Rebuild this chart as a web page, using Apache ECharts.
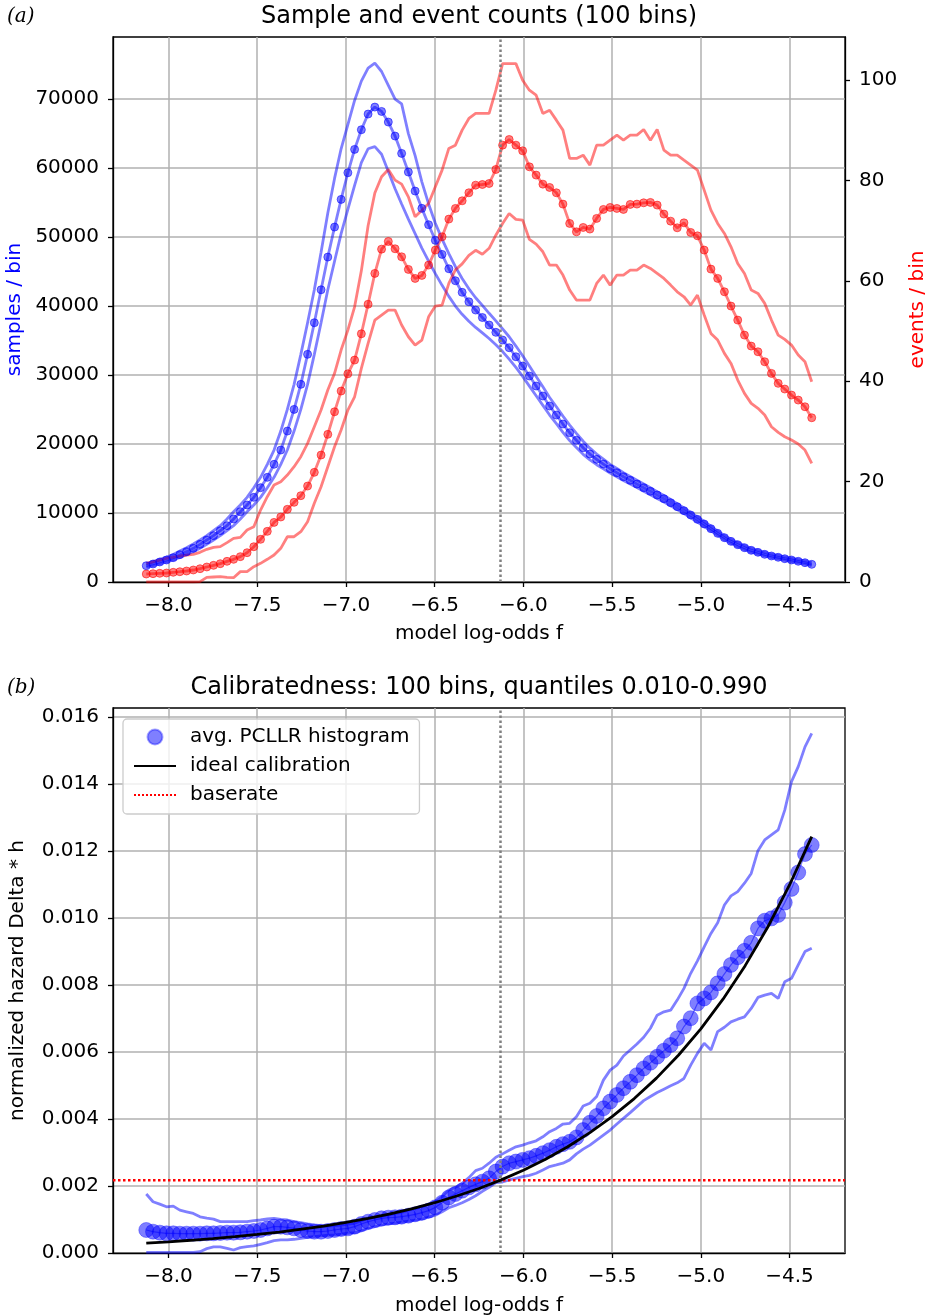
<!DOCTYPE html>
<html>
<head>
<meta charset="utf-8">
<script src="https://cdn.jsdelivr.net/npm/echarts@6/dist/echarts.min.js"></script>
<style>
  html, body { margin: 0; padding: 0; background: #fff; }
  #chart { width: 925px; height: 1316px; }
</style>
</head>
<body>
<div id="chart"></div>
<script>
// ---- bin centres (model log-odds f) ----
const binF = [-8.125,-8.087,-8.049,-8.011,-7.973,-7.936,-7.898,-7.860,-7.822,-7.784,
  -7.746,-7.708,-7.670,-7.633,-7.595,-7.557,-7.519,-7.481,-7.443,-7.405,
  -7.367,-7.330,-7.292,-7.254,-7.216,-7.178,-7.140,-7.102,-7.064,-7.027,
  -6.989,-6.951,-6.913,-6.875,-6.837,-6.799,-6.761,-6.723,-6.686,-6.648,
  -6.610,-6.572,-6.534,-6.496,-6.458,-6.420,-6.383,-6.345,-6.307,-6.269,
  -6.231,-6.193,-6.155,-6.117,-6.080,-6.042,-6.004,-5.966,-5.928,-5.890,
  -5.852,-5.814,-5.777,-5.739,-5.701,-5.663,-5.625,-5.587,-5.549,-5.511,
  -5.473,-5.436,-5.398,-5.360,-5.322,-5.284,-5.246,-5.208,-5.170,-5.133,
  -5.095,-5.057,-5.019,-4.981,-4.943,-4.905,-4.867,-4.830,-4.792,-4.754,
  -4.716,-4.678,-4.640,-4.602,-4.564,-4.527,-4.489,-4.451,-4.413,-4.375];

// ---- panel (a): samples per bin ----
const samplesMean = [2360,2610,2900,3190,3530,3960,4400,4880,5460,6090,
  6720,7440,8160,9130,10190,11160,12270,13670,15170,17060,
  19130,21880,25020,28650,33000,37580,42360,47100,51450,55460,
  59320,62710,65560,67830,68840,68210,66670,64640,62130,59420,
  56670,54160,51790,49520,47490,45410,43670,41990,40620,39420,
  38340,37250,36190,35070,33960,32650,31300,29860,28410,26960,
  25510,24200,22900,21640,20540,19460,18550,17780,17100,16420,
  15840,15260,14740,14200,13670,13140,12610,12080,11500,10920,
  10340,9710,9080,8410,7730,7050,6430,5890,5410,4980,
  4590,4300,4010,3770,3580,3380,3190,3000,2800,2560];
const samplesUpper = [2670,2950,3280,3600,3990,4480,4970,5510,6090,6720,
  7440,8160,9130,10190,11160,12270,13670,15170,17060,19130,
  21880,25020,28650,33000,37580,42360,47800,53500,58500,62800,
  66300,69800,72600,74500,75200,74000,72000,70000,69300,65000,
  61800,58000,54800,52000,49700,47600,45700,44000,42500,41200,
  40100,38950,37850,36700,35550,34200,32800,31300,29800,28300,
  26750,25400,24050,22750,21550,20400,19400,18550,17800,17050,
  16450,15850,15300,14750,14200,13650,13100,12550,11950,11350,
  10750,10100,9450,8770,8080,7380,6750,6200,5720,5280,
  4890,4590,4300,4050,3850,3650,3450,3250,3050,2800];
const samplesLower = [2150,2380,2640,2900,3200,3550,3960,4400,4880,5460,
  6090,6720,7440,8160,9130,10190,11160,12270,13670,15170,
  17060,19130,21880,25020,28650,33000,37580,42360,46500,50500,
  54000,57500,60800,62800,63100,62000,59500,57000,54800,52600,
  50500,48400,46500,44700,43000,41400,40000,38800,37800,36900,
  36100,35300,34400,33400,32300,31100,29800,28400,27000,25600,
  24200,22950,21700,20500,19500,18500,17700,17000,16400,15800,
  15250,14700,14200,13700,13150,12650,12100,11600,11050,10500,
  9930,9320,8700,8050,7400,6750,6130,5600,5120,4700,
  4320,4040,3770,3540,3350,3160,2970,2780,2600,2360];

// ---- panel (a): events per bin ----
const eventsMean = [1.59,1.66,1.73,1.79,1.93,2.05,2.19,2.39,2.65,2.99,
  3.32,3.65,4.12,4.52,5.05,5.84,7.03,8.50,10.09,11.88,
  12.95,14.48,15.87,17.20,19.12,21.85,25.30,29.42,33.92,38.05,
  41.49,44.22,49.46,55.35,61.49,66.33,67.86,66.40,64.80,62.29,
  60.49,61.09,63.15,66.14,68.79,72.31,74.44,75.96,77.56,79.08,
  79.21,79.41,82.20,87.05,88.18,87.05,85.92,82.73,81.08,79.28,
  78.62,77.56,75.30,71.45,69.78,70.65,70.32,72.45,74.24,74.64,
  74.44,74.24,75.24,75.30,75.56,75.64,75.10,73.31,71.91,70.58,
  71.57,69.66,68.98,66.14,62.35,60.50,57.83,54.98,52.19,49.20,
  47.01,45.88,43.89,41.57,39.58,38.45,37.25,36.25,34.92,32.73];
const eventsUpper = [3.72,4.00,4.35,4.71,4.95,5.18,5.35,5.51,5.91,6.51,
  6.90,7.04,7.84,8.70,8.90,10.36,11.02,14.34,17.00,19.32,
  19.98,21.31,22.97,24.96,27.62,30.94,34.26,38.25,41.57,46.22,
  50.20,54.84,62.00,71.00,77.50,80.74,82.20,80.08,79.28,76.75,
  72.77,74.10,75.44,78.75,82.07,86.39,87.05,90.04,92.37,93.37,
  93.37,93.37,98.00,103.30,103.30,103.30,100.00,98.00,97.00,93.37,
  94.02,92.03,90.04,84.40,84.40,85.06,83.07,87.05,87.05,88.05,
  89.04,88.05,89.04,89.04,90.17,88.05,90.17,86.06,85.06,85.06,
  84.06,83.07,82.07,78.09,74.10,71.45,69.46,66.80,63.48,61.49,
  58.17,57.51,55.52,52.19,49.20,48.34,47.21,45.22,43.89,39.90];
const eventsLower = [0,0,0,0,0,0,0,0,0.07,0.93,
  1.00,1.06,0.93,0.86,2.06,2.06,3.05,3.72,4.52,5.38,
  6.71,9.02,9.02,10.02,12.01,15.68,18.98,22.97,26.95,30.28,
  34.26,36.91,42.57,47.55,52.19,53.19,54.18,54.18,51.20,48.87,
  47.21,48.21,52.85,54.98,55.18,59.50,62.20,63.40,65.10,66.10,
  65.30,66.50,69.10,71.45,73.44,72.25,72.11,68.26,67.33,65.80,
  63.15,63.15,61.16,58.17,56.18,56.18,56.18,59.50,61.16,59.16,
  61.16,61.16,62.15,62.15,63.15,62.49,61.49,60.49,59.16,57.83,
  56.84,55.18,57.17,53.20,49.54,48.21,45.56,43.56,40.24,37.59,
  35.60,34.60,33.27,30.94,29.82,28.94,28.29,27.49,26.29,23.64];

// ---- panel (b): calibration ----
const pcllrAvg = [0.000687,0.000637,0.000607,0.000587,0.000587,0.000577,0.000577,0.000577,0.000577,0.000587,
  0.000587,0.000597,0.000607,0.000607,0.000617,0.000637,0.000657,0.000687,0.000736,0.000786,
  0.000786,0.000766,0.000736,0.000687,0.000657,0.000637,0.000637,0.000657,0.000687,0.000716,
  0.000736,0.000786,0.000866,0.000935,0.000985,0.001035,0.001055,0.001065,0.001085,0.001115,
  0.001155,0.001204,0.001264,0.001363,0.00150,0.00166,0.00176,0.00186,0.00196,0.00205,
  0.00213,0.00223,0.00243,0.00258,0.00268,0.00273,0.00278,0.00283,0.00290,0.00298,
  0.00307,0.00317,0.00325,0.00332,0.00345,0.00367,0.00389,0.00409,0.00432,0.00452,
  0.00472,0.00492,0.00511,0.00531,0.00551,0.00568,0.00586,0.00604,0.00621,0.00641,
  0.00676,0.00701,0.00745,0.00760,0.00778,0.00805,0.00833,0.00860,0.00883,0.00902,
  0.00926,0.00969,0.00992,0.00999,0.01009,0.01046,0.01087,0.01136,0.01191,0.01218];
const pcllrUpper = [0.00176,0.00153,0.00146,0.00138,0.00140,0.00128,0.00123,0.00118,0.00108,0.00104,
  0.00101,0.000935,0.000935,0.000935,0.000935,0.000935,0.000965,0.000985,0.001015,0.001035,
  0.001005,0.000985,0.000935,0.000905,0.000866,0.000836,0.000820,0.000806,0.000820,0.000836,
  0.000866,0.000886,0.000965,0.001035,0.001065,0.001104,0.001134,0.00118,0.001214,0.00128,
  0.001333,0.00138,0.00146,0.00153,0.00168,0.00188,0.00196,0.00208,0.00225,0.00246,
  0.00253,0.00268,0.00286,0.00296,0.00307,0.00317,0.00322,0.00329,0.00335,0.00347,
  0.00362,0.00372,0.00385,0.00387,0.00407,0.00439,0.00447,0.00467,0.00516,0.00546,
  0.00561,0.00588,0.00606,0.00624,0.00644,0.00671,0.00710,0.00720,0.00725,0.00755,
  0.00790,0.00835,0.00872,0.00914,0.00954,0.00986,0.01039,0.01066,0.01079,0.01104,
  0.01133,0.01201,0.01233,0.01248,0.01263,0.01322,0.01407,0.01452,0.01511,0.01551];
const pcllrLower = [0.00002,0.00002,0.00002,0.00002,0.00002,0.00002,0.00002,0.00002,0.00004,0.00013,
  0.00018,0.00018,0.00014,0.00009,0.00016,0.00019,0.00021,0.00026,0.00031,0.00037,
  0.00039,0.00039,0.00041,0.00044,0.00047,0.00049,0.00051,0.00053,0.00054,0.00056,
  0.00059,0.00061,0.00066,0.00073,0.00079,0.00083,0.00087,0.00089,0.00092,0.00095,
  0.00098,0.00101,0.00107,0.00113,0.00123,0.00135,0.00142,0.00150,0.00160,0.00171,
  0.00184,0.00196,0.00210,0.00212,0.00218,0.00223,0.00228,0.00232,0.00238,0.00248,
  0.00258,0.00263,0.00268,0.00278,0.00296,0.00310,0.00322,0.00337,0.00352,0.00367,
  0.00385,0.00402,0.00419,0.00437,0.00455,0.00467,0.00479,0.00489,0.00499,0.00508,
  0.00521,0.00561,0.00596,0.00626,0.00606,0.00661,0.00674,0.00690,0.00698,0.00705,
  0.00730,0.00763,0.00770,0.00775,0.00760,0.00810,0.00820,0.00860,0.00900,0.00910];

// ideal calibration curve, read at these log-odds
const idealF = [-8.125,-8.0,-7.875,-7.75,-7.625,-7.5,-7.375,-7.25,-7.125,-7.0,
  -6.875,-6.75,-6.625,-6.5,-6.375,-6.25,-6.125,-6.0,-5.875,-5.75,
  -5.625,-5.5,-5.375,-5.25,-5.125,-5.0,-4.875,-4.75,-4.625,-4.5,-4.375];
const idealH = [0.000296,0.000335,0.000380,0.000431,0.000488,0.000553,0.000626,0.000710,0.000804,0.000911,
  0.001032,0.001169,0.001325,0.001501,0.001701,0.001927,0.002183,0.002473,0.002801,0.003173,
  0.003594,0.004070,0.004610,0.005220,0.005911,0.006693,0.007577,0.008578,0.009709,0.010987,0.012432];

const baserate = 0.00217;
const markerF = -6.13;

// ---- axis ranges and tick labels ----
const fRange = [-8.3125, -4.1875];
const fTicks = [-8.0,-7.5,-7.0,-6.5,-6.0,-5.5,-5.0,-4.5];
const sampleTicks = [0,10000,20000,30000,40000,50000,60000,70000];
const eventTicks = [0,20,40,60,80,100];
const hazardTicks = [0,0.002,0.004,0.006,0.008,0.010,0.012,0.014,0.016];

// ---- build ----
const pairs = (xs, ys) => xs.map((x, i) => [x, ys[i]]);
const FONT = 'DejaVu Sans';
const FS = 20;
const LW = 2.8;
const BLUE = 'rgba(0,0,255,0.5)';
const RED = 'rgba(255,0,0,0.5)';
const minus = v => String(v).replace('-', '\u2212');

function xAxisCfg(grid, gap) {
  return {
    type: 'value', gridIndex: grid, min: fRange[0], max: fRange[1],
    name: 'model log-odds f', nameLocation: 'middle', nameGap: gap,
    nameTextStyle: { fontFamily: FONT, fontSize: FS, color: '#000' },
    axisLine: { show: true, lineStyle: { color: '#000', width: 1.3 } },
    axisTick: { show: true, inside: false, length: 5, customValues: fTicks, lineStyle: { color: '#000', width: 1.3 } },
    axisLabel: { show: true, margin: 14, customValues: fTicks, fontFamily: FONT, fontSize: FS, color: '#000',
      formatter: v => minus(v.toFixed(1)) },
    splitLine: { show: true, lineStyle: { color: '#b0b0b0', width: 1.5 } }
  };
}
function yAxisCfg(grid, opts) {
  return Object.assign({
    type: 'value', gridIndex: grid, nameLocation: 'middle',
    axisLine: { show: true, lineStyle: { color: '#000', width: 1.3 } },
    axisTick: { show: true, inside: false, length: 5, customValues: opts.ticks, lineStyle: { color: '#000', width: 1.3 } },
    axisLabel: { show: true, margin: 14, customValues: opts.ticks, fontFamily: FONT, fontSize: FS, color: '#000',
      formatter: opts.fmt },
    splitLine: { show: opts.split, lineStyle: { color: '#b0b0b0', width: 1.5 } }
  }, opts.extra);
}

const lineBase = (name, xi, yi, data, color, extra) => Object.assign({
  name, type: 'line', xAxisIndex: xi, yAxisIndex: yi, data,
  showSymbol: false, symbol: 'none', lineStyle: { color, width: LW }, itemStyle: { color },
  animation: false, z: 3
}, extra || {});

const vMark = {
  silent: true, symbol: 'none', animation: false, label: { show: false },
  lineStyle: { color: '#808080', type: 'dotted', width: 2.5 },
  data: [{ xAxis: markerF }]
};

const gridBase = { left: 113, right: 80, height: 545, show: true, borderColor: '#000', borderWidth: 1.3,
  backgroundColor: 'transparent', outerBoundsMode: 'none', containLabel: false };

const option = {
  animation: false,
  backgroundColor: '#fff',
  title: [
    { text: 'Sample and event counts (100 bins)', left: 479, top: 5, textAlign: 'center', padding: 0,
      textStyle: { fontFamily: FONT, fontSize: 24, fontWeight: 'normal', color: '#000' } },
    { text: '(a)', left: 7, top: 7, padding: 0,
      textStyle: { fontFamily: 'DejaVu Serif', fontStyle: 'italic', fontSize: 20, fontWeight: 'normal', color: '#000' } },
    { text: 'Calibratedness: 100 bins, quantiles 0.010-0.990', left: 479, top: 676, textAlign: 'center', padding: 0,
      textStyle: { fontFamily: FONT, fontSize: 24, fontWeight: 'normal', color: '#000' } },
    { text: '(b)', left: 7, top: 678, padding: 0,
      textStyle: { fontFamily: 'DejaVu Serif', fontStyle: 'italic', fontSize: 20, fontWeight: 'normal', color: '#000' } }
  ],
  grid: [
    Object.assign({ top: 37 }, gridBase),
    Object.assign({ top: 708 }, gridBase)
  ],
  legend: {
    left: 123, top: 719, orient: 'vertical',
    padding: [8, 10, 9, 10], itemGap: 9, itemWidth: 42, itemHeight: 15,
    backgroundColor: 'rgba(255,255,255,0.8)', borderColor: '#cccccc', borderWidth: 1.3, borderRadius: 4,
    textStyle: { fontFamily: FONT, fontSize: FS, color: '#000', padding: [0, 0, 0, 9] },
    data: [
      { name: 'avg. PCLLR histogram', icon: 'circle' },
      { name: 'ideal calibration', itemStyle: { opacity: 0 } },
      { name: 'baserate', itemStyle: { opacity: 0 } }
    ]
  },
  xAxis: [xAxisCfg(0, 42), xAxisCfg(1, 43)],
  yAxis: [
    yAxisCfg(0, { ticks: sampleTicks, split: true, fmt: v => String(v),
      extra: { min: 0, max: 79000, position: 'left', name: 'samples / bin', nameGap: 86,
        nameTextStyle: { fontFamily: FONT, fontSize: FS, color: '#0000ff' } } }),
    yAxisCfg(0, { ticks: eventTicks, split: false, fmt: v => String(v),
      extra: { min: 0, max: 108.6, position: 'right', name: 'events / bin', nameGap: 60,
        nameTextStyle: { fontFamily: FONT, fontSize: FS, color: '#ff0000' } } }),
    yAxisCfg(1, { ticks: hazardTicks, split: true, fmt: v => v.toFixed(3),
      extra: { min: 0, max: 0.01627, position: 'left', name: 'normalized hazard Delta * h', nameGap: 85,
        nameTextStyle: { fontFamily: FONT, fontSize: FS, color: '#000' } } })
  ],
  series: [
    // panel (a)
    lineBase('samples upper', 0, 0, pairs(binF, samplesUpper), BLUE),
    lineBase('samples lower', 0, 0, pairs(binF, samplesLower), BLUE),
    lineBase('samples', 0, 0, pairs(binF, samplesMean), BLUE, {
      showSymbol: true, symbol: 'circle', symbolSize: 8,
      itemStyle: { color: BLUE, borderColor: 'rgba(0,0,255,0.55)', borderWidth: 1 }
    }),
    lineBase('events upper', 0, 1, pairs(binF, eventsUpper), RED),
    lineBase('events lower', 0, 1, pairs(binF, eventsLower), RED),
    lineBase('events', 0, 1, pairs(binF, eventsMean), RED, {
      showSymbol: true, symbol: 'circle', symbolSize: 8,
      itemStyle: { color: RED, borderColor: 'rgba(255,0,0,0.55)', borderWidth: 1 },
      markLine: vMark
    }),
    // panel (b)
    lineBase('pcllr upper', 1, 2, pairs(binF, pcllrUpper), BLUE),
    lineBase('pcllr lower', 1, 2, pairs(binF, pcllrLower), BLUE, { markLine: vMark }),
    lineBase('avg. PCLLR histogram', 1, 2, pairs(binF, pcllrAvg), BLUE, {
      showSymbol: true, symbol: 'circle', symbolSize: 15,
      lineStyle: { color: BLUE, width: 1.2 },
      itemStyle: { color: BLUE, borderColor: 'rgba(0,0,255,0.35)', borderWidth: 1 }
    }),
    lineBase('ideal calibration', 1, 2, pairs(idealF, idealH), '#000', { z: 5 }),
    lineBase('baserate', 1, 2, pairs(fRange, [baserate, baserate]), '#ff0000', {
      lineStyle: { color: '#ff0000', width: 2.5, type: 'dotted' }, z: 4
    })
  ]
};

const chart = echarts.init(document.getElementById('chart'), null, { renderer: 'canvas' });
chart.setOption(option);
</script>
</body>
</html>
